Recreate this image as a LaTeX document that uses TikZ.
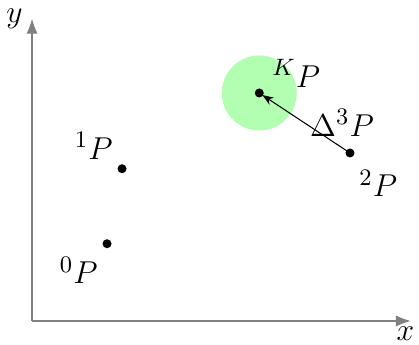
\documentclass[tikz,border=0pt]{standalone}
\usetikzlibrary{arrows.meta}
\usetikzlibrary{positioning}

\begin{document}
\begin{tikzpicture}[font=\fontsize{13}{15}\selectfont]

    \useasboundingbox (-0.427, -0.32) rectangle (5.16, 4.28);

    \begin{scope}
        \coordinate (O) at (0, 0);
        \coordinate (P0) at (1, 1.03);
        \coordinate (P1) at (1.2, 2.03);
        \coordinate (PK) at (3.03, 3.04);
        \coordinate (P2) at (4.24, 2.24);

        % axes
        \draw [-{Latex[length=2mm]}, gray] (O) -- (5.05, 0);
        \node [below, xshift=-0.7mm, yshift=0.5mm] (xlab) at (5.05, 0) {$x$};
        \draw [-{Latex[length=2mm]}, gray] (O) -- (0, 4.03);
        \node [left] (ylab) at (0, 4.03) {$y$};

        \fill[green!30] (PK) circle (5mm);

        \fill[] (P0) circle (0.6mm) node [below left, yshift=-0.5mm] (lab0) {$^{0}P$};
        \fill[] (P1) circle (0.6mm) node [above left] (lab1) {$^{1}P$};
        \fill[] (PK) circle (0.6mm) node [above right, xshift=0.5mm, yshift=-0.5mm] (labK) {$^{K}P$};
        \fill[] (P2) circle (0.6mm) node [below right, yshift=-1mm] (lab2) {$^{2}P$};

        \draw [-{Stealth[length=1.5mm]}, shorten >=0.5mm] (P2) -- (PK) node [midway, right, xshift=-0.5mm] (delta) {$\Delta^{3}P$};
    \end{scope}

\end{tikzpicture}
\end{document}
